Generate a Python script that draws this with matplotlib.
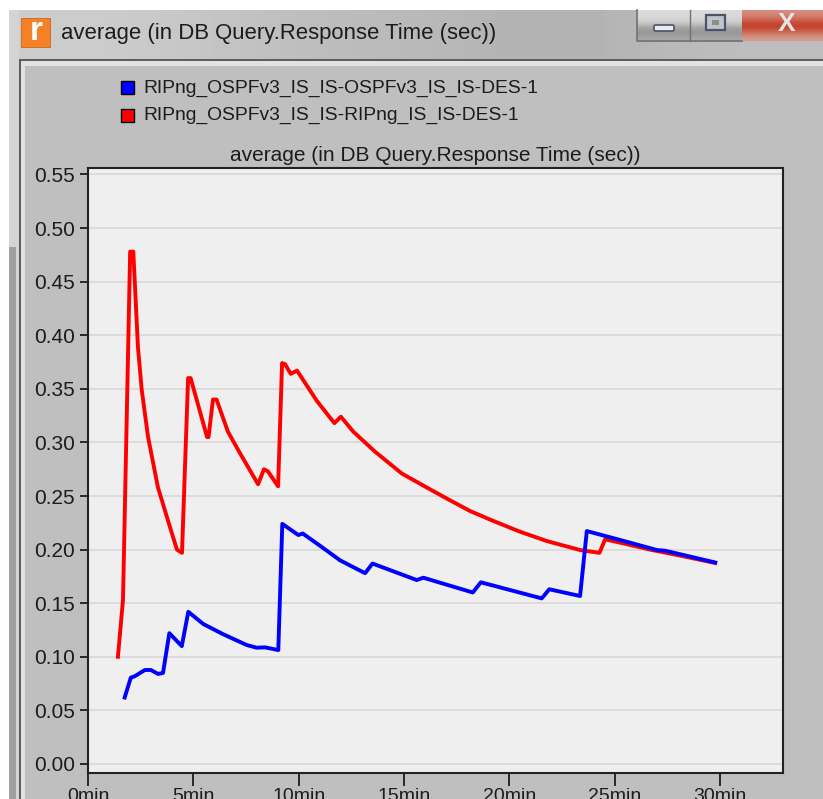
import matplotlib
matplotlib.use('Agg')
import matplotlib.pyplot as plt
from matplotlib.patches import Rectangle, FancyBboxPatch
import numpy as np

W, H = 823, 799

# значения с графика (минуты, секунды)
red_x = [1.42, 1.66, 2.00, 2.15, 2.37, 2.55, 2.85, 3.32, 3.89, 4.22, 4.46, 4.75, 4.87,
         5.65, 5.72, 5.93, 6.10, 6.64, 7.21, 8.07, 8.35, 8.54, 9.02, 9.21, 9.35, 9.62, 9.92,
         10.85, 11.01, 11.69, 12.00, 12.59, 13.62, 14.89, 16.07, 17.02, 18.13, 19.24, 20.50,
         21.77, 23.35, 24.27, 24.54, 25.25, 26.67, 28.20, 29.76]
red_y = [0.100, 0.153, 0.478, 0.478, 0.389, 0.349, 0.305, 0.258, 0.221, 0.200, 0.197,
         0.360, 0.360, 0.305, 0.305, 0.340, 0.340, 0.310, 0.290, 0.261, 0.275, 0.273, 0.259,
         0.374, 0.373, 0.364, 0.367, 0.339, 0.335, 0.318, 0.324, 0.310, 0.2914, 0.271, 0.258,
         0.2477, 0.236, 0.2267, 0.2167, 0.208, 0.1996, 0.197, 0.2096, 0.2065, 0.200, 0.194, 0.1875]
blue_x = [1.74, 2.03, 2.23, 2.70, 2.98, 3.33, 3.56, 3.86, 4.45, 4.76, 5.47, 6.42, 7.53, 8.00,
          8.40, 9.03, 9.22, 9.98, 10.19, 11.01, 11.96, 13.15, 13.50, 15.60, 15.91, 18.26,
          18.64, 21.53, 21.89, 23.35, 23.67, 25.25, 27.00, 27.38, 29.76]
blue_y = [0.062, 0.0805, 0.082, 0.0877, 0.0877, 0.084, 0.085, 0.122, 0.110, 0.142, 0.1306,
          0.121, 0.111, 0.1085, 0.1088, 0.1063, 0.224, 0.2136, 0.215, 0.2036, 0.190, 0.178,
          0.187, 0.1716, 0.1738, 0.160, 0.1695, 0.1545, 0.163, 0.1567, 0.2173, 0.209,
          0.1996, 0.199, 0.188]

y_ticks = [0.00, 0.05, 0.10, 0.15, 0.20, 0.25, 0.30, 0.35, 0.40, 0.45, 0.50, 0.55]
x_ticks = [0, 5, 10, 15, 20, 25, 30]
x_labels = ['0min', '5min', '10min', '15min', '20min', '25min', '30min']
names = ['RIPng_OSPFv3_IS_IS-OSPFv3_IS_IS-DES-1', 'RIPng_OSPFv3_IS_IS-RIPng_IS_IS-DES-1']
title = 'average (in DB Query.Response Time (sec))'

plt.rcParams['font.family'] = ['Liberation Sans', 'DejaVu Sans']

fig = plt.figure(figsize=(W / 100, H / 100), dpi=100, facecolor='white')

# фон окна в пикселях картинки
bg = fig.add_axes([0, 0, 1, 1], zorder=0)
bg.axis('off')

# заголовок окна с мягким градиентом
grad = np.array([[0.80, 0.80, 0.78, 0.76, 0.74, 0.73, 0.72, 0.70, 0.70, 0.72, 0.74, 0.74]])
bg.imshow(grad, extent=(9, W, 59, 10), cmap='gray', vmin=0, vmax=1, aspect='auto', zorder=1,
          interpolation='bicubic')
bg.set_xlim(0, W)
bg.set_ylim(H, 0)

# левая полоса и рамка
bg.add_patch(Rectangle((9, 10), 10, H - 10, fc='#d4d4d4', ec='none', zorder=1))
bg.add_patch(Rectangle((9, 247), 7, H - 247, fc='#a0a0a0', ec='none', zorder=2))
bg.add_patch(Rectangle((19, 59), W - 19, H - 59, fc='#5e5e5e', ec='none', zorder=2))
bg.add_patch(Rectangle((21, 61), W - 21, H - 61, fc='#e2e2e2', ec='none', zorder=3))
bg.add_patch(Rectangle((25, 66), W - 25, H - 66, fc='#bfbfbf', ec='none', zorder=3))

# кнопки окна
btn = np.array([[0.86], [0.84], [0.80], [0.62], [0.58], [0.66]])
bg.imshow(btn, extent=(637, 742, 41, 10), cmap='gray', vmin=0, vmax=1, aspect='auto', zorder=2,
          interpolation='bicubic')
red = np.array([[[0.84, 0.56, 0.50]], [[0.80, 0.42, 0.34]], [[0.76, 0.20, 0.12]], [[0.80, 0.40, 0.32]], [[0.84, 0.62, 0.56]]])
bg.imshow(red, extent=(742, W, 41, 10), aspect='auto', zorder=2, interpolation='bicubic')
bg.set_xlim(0, W)
bg.set_ylim(H, 0)
bg.plot([637, 637, 742], [10, 41, 41], color='#6b7177', lw=1.2, zorder=4)
bg.plot([690, 690], [10, 41], color='#6b7177', lw=1, zorder=4)
bg.add_patch(FancyBboxPatch((654, 25), 20, 6, boxstyle='round,pad=0,rounding_size=1.5',
                            fc='#e8ecf2', ec='#4d5368', lw=1.2, zorder=4))
bg.add_patch(Rectangle((706, 15), 19, 15, fc='#c0c4cc', ec='#4d5368', lw=1.6, zorder=4))
bg.add_patch(Rectangle((712, 20), 7, 5, fc='#8c9088', ec='none', zorder=5))
bg.text(787, 24, 'X', fontsize=19, fontweight='bold', color='#e6e4e2', ha='center', va='center', zorder=5)

# значок и подпись окна
bg.add_patch(Rectangle((21, 18), 29, 29, fc='#f58025', ec='#c9671b', lw=0.6, zorder=4))
bg.text(36, 31, 'r', fontsize=24, fontweight='bold', color='white', ha='center', va='center', zorder=5)
bg.text(61, 33, title, fontsize=15.9, color='#1c1c1c', va='center', zorder=5)

# легенда
bg.add_patch(Rectangle((121, 81), 13, 13, fc='#0000ff', ec='black', lw=1, zorder=5))
bg.add_patch(Rectangle((121, 109), 13, 13, fc='#ff0000', ec='black', lw=1, zorder=5))
bg.text(143, 88, names[0], fontsize=13.9, color='#1c1c1c', va='center', zorder=5)
bg.text(143, 115, names[1], fontsize=13.9, color='#1c1c1c', va='center', zorder=5)

# сам график
ax = fig.add_axes([88 / W, 1 - 773 / H, (783 - 88) / W, (773 - 168) / H], zorder=2)
ax.set_facecolor('#efefef')
ax.plot(red_x, red_y, color='#ff0000', lw=2.8, zorder=3, solid_joinstyle='round')
ax.plot(blue_x, blue_y, color='#0000ff', lw=2.8, zorder=4, solid_joinstyle='round')
ax.set_xlim(0, 32.98)
ax.set_ylim(-0.0084, 0.556)
ax.set_xticks(x_ticks)
ax.set_xticklabels(x_labels)
ax.set_yticks(y_ticks)
ax.set_yticklabels(['%.2f' % v for v in y_ticks])
ax.tick_params(axis='y', labelsize=15, length=6, width=1.3, colors='#1c1c1c', pad=3.5)
ax.tick_params(axis='x', labelsize=14, length=9, width=1.3, colors='#1c1c1c', pad=2)
ax.grid(True, axis='y', color='#d8d8d8', lw=1.2)
ax.set_axisbelow(True)
for s in ax.spines.values():
    s.set_linewidth(1.5)
    s.set_color('#222222')
ax.set_title(title, fontsize=15, color='#1c1c1c', pad=5)

fig.savefig('out.png', dpi=100)
